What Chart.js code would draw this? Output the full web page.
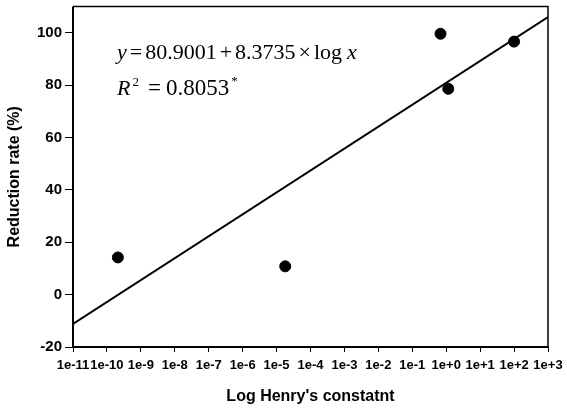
<!DOCTYPE html>
<html>
<head>
<meta charset="utf-8">
<script src="https://cdn.jsdelivr.net/npm/chart.js@4"></script>
<style>
html,body{margin:0;padding:0;background:#fff;}
#wrap{width:567px;height:410px;position:relative;}
</style>
</head>
<body>
<div id="wrap"><canvas id="c" width="567" height="410"></canvas></div>
<script>
// Data
const pointX = [2.1e-10, 1.8e-5, 0.68, 1.15, 100];
const pointY = [14.2, 10.8, 99.6, 78.6, 96.6];
// Regression line endpoints (y = 80.9001 + 8.3735 log x)
const lineX = [1e-11, 1e3];
const lineY = [-11.2, 106.0];
const xTicks = [1e-11,1e-10,1e-9,1e-8,1e-7,1e-6,1e-5,1e-4,1e-3,1e-2,1e-1,1e0,1e1,1e2,1e3];
const yTicks = [-20, 0, 20, 40, 60, 80, 100];
const xTitle = "Log Henry's constatnt";
const yTitle = "Reduction rate (%)";

function expLabel(v){
  const e = Math.round(Math.log10(v));
  return '1e' + (e < 0 ? '-' + (-e) : '+' + e);
}

const frame = {
  id: 'frame',
  afterDatasetsDraw(chart){
    const {ctx, chartArea:a} = chart;
    ctx.save();
    ctx.strokeStyle = '#000';
    ctx.lineWidth = 1.5;
    ctx.beginPath();
    ctx.moveTo(a.left, a.top); ctx.lineTo(a.right, a.top); ctx.lineTo(a.right, a.bottom);
    ctx.stroke();
    ctx.lineWidth = 2;
    ctx.beginPath();
    ctx.moveTo(a.left, a.top); ctx.lineTo(a.left, a.bottom); ctx.lineTo(a.right, a.bottom);
    ctx.stroke();
    // equation text
    ctx.fillStyle = '#000';
    ctx.textBaseline = 'alphabetic';
    const fs = 22;
    const seg = (parts, x, y) => {
      for (const p of parts){
        x += (p.gap || 0);
        ctx.font = (p.it ? 'italic ' : '') + (p.size || fs) + 'px "Liberation Serif"';
        ctx.fillText(p.t, x, y - (p.up || 0));
        x += ctx.measureText(p.t).width;
      }
    };
    seg([{t:'y',it:true},{t:'=',gap:3},{t:'80.9001',gap:3},{t:'+',gap:3},{t:'8.3735',gap:3},
         {t:'×',gap:3},{t:'log',gap:3},{t:'x',it:true,gap:5}], 117, 59);
    seg([{t:'R',it:true},{t:'2',size:13,up:9,gap:2},{t:'=',gap:9,size:23},{t:'0.8053',gap:5,size:23},{t:'*',size:13,up:10,gap:2}], 117, 95);
    ctx.restore();
  }
};

new Chart(document.getElementById('c'), {
  type: 'scatter',
  data: {
    datasets: [
      {
        type: 'line',
        data: lineX.map((x,i)=>({x, y: lineY[i]})),
        borderColor: '#000', borderWidth: 2, pointRadius: 0, fill: false, tension: 0
      },
      {
        data: pointX.map((x,i)=>({x, y: pointY[i]})),
        backgroundColor: '#000', borderColor: '#000', pointRadius: 5.5, pointHoverRadius: 5.5
      }
    ]
  },
  options: {
    responsive: false,
    animation: false,
    devicePixelRatio: 1,
    layout: { padding: { left: 0, right: 19, top: 5, bottom: 0 } },
    plugins: { legend: { display: false }, tooltip: { enabled: false } },
    scales: {
      x: {
        type: 'logarithmic',
        min: 1e-11, max: 1e3,
        afterBuildTicks(s){ s.ticks = xTicks.map(v=>({value:v, major:true})); },
        afterFit(s){ s.height = 63; s.paddingLeft = 0; s.paddingRight = 0; },
        ticks: {
          autoSkip: false, maxRotation: 0, minRotation: 0,
          color: '#000', padding: 6,
          font: { family: '"Liberation Sans", Arial', size: 13, weight: 'bold' },
          callback: (v) => expLabel(v)
        },
        grid: { display: true, drawOnChartArea: false, drawTicks: true, tickLength: 5, color: '#000', lineWidth: 1 },
        border: { display: false },
        title: {
          display: true, text: xTitle, color: '#000',
          font: { family: '"Liberation Sans", Arial', size: 16, weight: 'bold' },
          padding: { top: 4, bottom: 4 }
        }
      },
      y: {
        type: 'linear',
        min: -20, max: 110,
        afterBuildTicks(s){ s.ticks = yTicks.map(v=>({value:v})); },
        afterFit(s){ s.width = 73; s.paddingTop = 0; s.paddingBottom = 0; },
        ticks: {
          color: '#000', padding: 3,
          font: { family: '"Liberation Sans", Arial', size: 15, weight: 'bold' }
        },
        grid: { display: true, drawOnChartArea: false, drawTicks: true, tickLength: 8, color: '#000', lineWidth: 1 },
        border: { display: false },
        title: {
          display: true, text: yTitle, color: '#000',
          font: { family: '"Liberation Sans", Arial', size: 16, weight: 'bold' },
          padding: { top: 5, bottom: 5 }
        }
      }
    }
  },
  plugins: [frame]
});
</script>
</body>
</html>
